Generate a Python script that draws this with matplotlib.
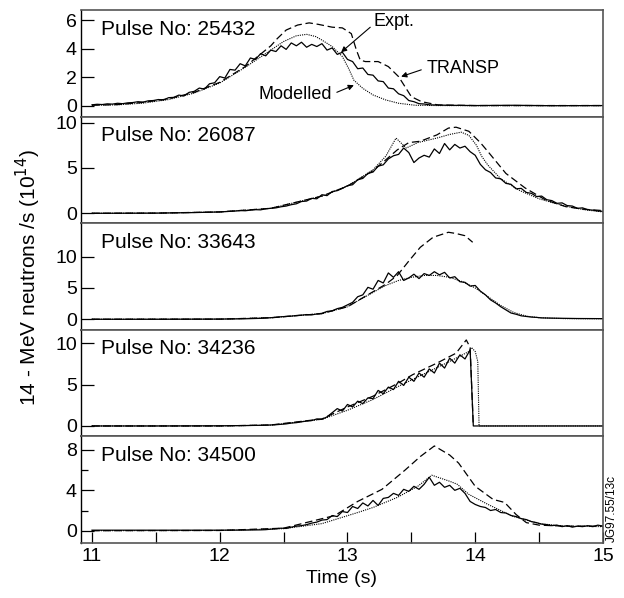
import numpy as np
import matplotlib
matplotlib.use("Agg")
from matplotlib import pyplot as plt

plt.rcParams['font.family'] = ['Liberation Sans', 'DejaVu Sans']

pulses = ['25432', '26087', '33643', '34236', '34500']

# ---- Pulse 25432 ----
exp1 = [0.08, 0.12, 0.10, 0.15, 0.13, 0.19, 0.16, 0.22, 0.24, 0.30,
        0.27, 0.36, 0.38, 0.45, 0.42, 0.58, 0.60, 0.76, 0.70, 0.95,
        1.02, 1.25, 1.18, 1.55, 1.62, 2.05, 1.95, 2.55, 2.50, 2.95,
        2.80, 3.35, 3.25, 3.65, 3.50, 3.90, 3.80, 4.20, 3.95, 4.40,
        4.20, 4.45, 4.10, 4.30, 4.15, 4.35, 3.90, 4.05, 3.60, 3.75,
        3.25, 3.10, 2.60, 2.65, 2.20, 2.15, 1.75, 1.70, 1.25, 1.20,
        0.85, 0.72, 0.38, 0.30, 0.16, 0.14, 0.08]
exp1_tail_t = [13.8, 14.0, 14.3, 14.6, 15.0]
exp1_tail = [0.05, 0.03, 0.05, 0.02, 0.03]
mod1_t = [11.0, 11.2, 11.4, 11.6, 11.8, 12.0, 12.2, 12.4, 12.5, 12.6, 12.68, 12.75,
          12.8, 12.88, 12.96, 13.01, 13.05, 13.12, 13.2, 13.3, 13.4, 13.53, 13.7, 14.0, 15.0]
mod1 = [0.05, 0.08, 0.2, 0.45, 0.9, 1.6, 2.7, 3.9, 4.5, 4.9, 5.0, 4.85,
        4.6, 4.15, 3.45, 2.6, 1.8, 1.23, 0.77, 0.42, 0.19, 0.05, 0.03, 0.02, 0.02]
tr1_t = [11.0, 11.2, 11.4, 11.6, 11.8, 12.0, 12.2, 12.4, 12.45, 12.52, 12.61, 12.7,
         12.77, 12.88, 12.96, 13.03, 13.07, 13.1, 13.14, 13.24, 13.32, 13.4, 13.45,
         13.5, 13.58, 13.71, 14.0, 15.0]
tr1 = [0.05, 0.1, 0.25, 0.5, 0.95, 1.65, 2.75, 4.2, 4.7, 5.3, 5.65, 5.8,
       5.7, 5.5, 5.45, 5.05, 3.9, 3.2, 3.1, 3.1, 2.75, 2.05, 1.35,
       0.65, 0.3, 0.07, 0.03, 0.03]

# ---- Pulse 26087 ----
exp2_head_t = [11.0, 11.5, 11.8, 12.0]
exp2_head = [0.0, 0.02, 0.08, 0.15]
exp2 = [0.25, 0.30, 0.28, 0.35, 0.40, 0.38, 0.50, 0.55, 0.60, 0.72,
        0.80, 0.95, 1.05, 1.30, 1.35, 1.65, 1.60, 2.05, 1.95, 2.40,
        2.50, 2.75, 3.05, 3.15, 3.70, 3.85, 4.40, 4.55, 5.20, 5.35,
        6.00, 6.35, 6.50, 7.20, 6.70, 5.60, 6.10, 6.40, 6.20, 7.10,
        6.60, 7.70, 7.00, 7.60, 7.20, 7.40, 6.80, 6.40, 5.40, 4.80,
        4.50, 3.90, 3.80, 3.30, 3.20, 2.70, 2.75, 2.30, 2.20, 1.85,
        1.90, 1.50, 1.40, 1.10, 1.15, 0.85, 0.80, 0.55, 0.60, 0.40,
        0.35, 0.25, 0.22]
mod2_t = [11.0, 11.5, 12.0, 12.4, 12.8, 13.0, 13.2, 13.3, 13.38, 13.46, 13.55, 13.7,
          13.8, 13.89, 13.95, 14.01, 14.05, 14.1, 14.2, 14.35, 14.5, 14.7, 14.85, 15.0]
mod2 = [0.0, 0.02, 0.15, 0.55, 1.9, 3.0, 4.8, 6.3, 8.3, 7.2, 7.8, 8.3,
        8.7, 8.95, 8.6, 7.5, 6.3, 5.3, 3.8, 2.5, 1.6, 0.8, 0.4, 0.15]
tr2_t = [11.0, 11.5, 12.0, 12.4, 12.8, 13.0, 13.2, 13.3, 13.39, 13.48, 13.57, 13.7,
         13.79, 13.85, 13.95, 14.04, 14.1, 14.24, 14.39, 14.55, 14.71, 14.85, 15.0]
tr2 = [0.0, 0.02, 0.15, 0.55, 1.9, 3.0, 4.7, 5.9, 7.0, 7.8, 7.95, 8.65,
       9.4, 9.5, 9.05, 7.8, 6.8, 4.4, 2.8, 1.47, 0.73, 0.45, 0.3]

# ---- Pulse 33643 ----
exp3_head_t = [11.0, 11.5, 12.0, 12.2]
exp3_head = [0.0, 0.0, 0.03, 0.08]
exp3 = [0.15, 0.20, 0.25, 0.30, 0.40, 0.45, 0.50, 0.60, 0.65, 0.75,
        0.70, 0.85, 0.95, 1.25, 1.35, 1.70, 1.90, 2.30, 2.70, 3.60,
        3.90, 5.10, 4.80, 6.20, 5.80, 7.40, 6.70, 7.60, 6.20, 6.60,
        7.20, 6.50, 7.30, 7.00, 7.60, 7.10, 7.50, 6.60, 6.80, 6.00,
        5.90, 5.30, 5.40, 4.50, 3.90, 3.10, 2.60, 2.00, 1.50, 1.00,
        0.80, 0.55, 0.45, 0.35, 0.30, 0.22, 0.20, 0.18]
exp3_tail_t = [14.8, 15.0]
exp3_tail = [0.12, 0.1]
mod3_t = [11.0, 12.0, 12.4, 12.8, 13.0, 13.2, 13.3, 13.4, 13.5, 13.6, 13.7,
          13.8, 13.9, 14.0, 14.1, 14.2, 14.3, 14.4, 14.5, 14.7, 15.0]
mod3 = [0.0, 0.02, 0.25, 0.9, 2.0, 4.3, 5.4, 6.2, 6.7, 7.0, 7.0,
        6.7, 6.0, 5.0, 3.6, 2.2, 1.1, 0.5, 0.25, 0.1, 0.08]
tr3_t = [11.0, 12.0, 12.4, 12.8, 13.0, 13.2, 13.3, 13.39, 13.48, 13.57, 13.67,
         13.79, 13.85, 13.92, 13.98]
tr3 = [0.0, 0.02, 0.25, 0.9, 2.0, 4.4, 5.6, 7.0, 9.3, 11.5, 13.1,
       13.9, 13.7, 13.35, 12.3]

# ---- Pulse 34236 ----
exp4_head_t = [11.0, 11.5, 12.0, 12.2]
exp4_head = [0.0, 0.0, 0.02, 0.05]
exp4 = [0.08, 0.10, 0.12, 0.15, 0.20, 0.25, 0.35, 0.40, 0.50, 0.60,
        0.65, 0.85, 0.80, 1.10, 1.60, 2.10, 1.80, 2.60, 2.30, 3.00,
        2.70, 3.40, 3.30, 4.30, 3.90, 4.70, 4.40, 5.40, 4.90, 5.90,
        5.40, 6.40, 5.90, 6.90, 6.40, 7.60, 7.00, 8.20, 7.60, 8.60,
        8.10, 9.20]
exp4_tail_t = [13.985, 14.05, 14.5, 15.0]
exp4_tail = [0.0, 0.0, 0.0, 0.0]
mod4_t = [11.0, 12.0, 12.4, 12.8, 13.0, 13.2, 13.4, 13.6, 13.8, 13.95, 13.97,
          14.0, 14.02, 14.03, 14.5, 15.0]
mod4 = [0.0, 0.0, 0.1, 0.8, 1.9, 3.2, 4.8, 6.3, 7.8, 9.0, 9.5,
        9.0, 7.8, 0.0, 0.0, 0.0]
tr4_t = [11.0, 12.0, 12.4, 12.8, 13.0, 13.2, 13.4, 13.51, 13.7, 13.85, 13.93, 13.96, 13.985]
tr4 = [0.0, 0.0, 0.12, 0.85, 2.3, 3.6, 5.2, 6.2, 7.6, 8.8, 10.4, 9.5, 0.0]

# ---- Pulse 34500 ----
exp5_head_t = [11.0, 11.5, 12.0, 12.2]
exp5_head = [0.05, 0.05, 0.05, 0.06]
exp5 = [0.08, 0.10, 0.15, 0.18, 0.25, 0.22, 0.35, 0.45, 0.50, 0.60,
        0.75, 0.85, 1.05, 1.10, 1.50, 1.40, 1.90, 1.80, 2.40, 2.20,
        2.75, 2.45, 3.00, 2.50, 3.20, 3.30, 3.70, 3.50, 4.10, 3.90,
        4.40, 4.10, 4.60, 5.30, 4.50, 4.80, 4.30, 4.50, 4.00, 4.20,
        3.70, 2.90, 2.60, 2.40, 2.30, 2.00, 2.10, 1.80, 1.75, 1.50,
        1.40, 1.20, 1.10, 0.90, 0.80, 0.65, 0.60, 0.50, 0.55, 0.40,
        0.50, 0.35, 0.45, 0.40, 0.50, 0.40, 0.55, 0.45]
mod5_t = [11.0, 12.0, 12.5, 12.8, 13.08, 13.2, 13.39, 13.55, 13.66, 13.8, 13.86,
          13.95, 14.1, 14.3, 14.5, 14.7, 15.0]
mod5 = [0.0, 0.02, 0.2, 0.7, 1.8, 2.3, 3.3, 4.4, 5.5, 4.9, 4.6,
        3.6, 2.6, 1.4, 0.7, 0.45, 0.4]
tr5_t = [11.0, 12.0, 12.5, 12.9, 13.08, 13.27, 13.45, 13.57, 13.68, 13.8, 13.87,
         14.0, 14.14, 14.23, 14.32, 14.4, 14.5, 14.7, 15.0]
tr5 = [0.0, 0.02, 0.25, 1.5, 2.9, 4.1, 6.0, 7.35, 8.4, 7.5, 6.7,
       4.4, 3.1, 2.8, 1.6, 0.8, 0.55, 0.45, 0.45]

expt_t = [
    np.r_[np.linspace(11.0, 13.64, len(exp1)), exp1_tail_t],
    np.r_[exp2_head_t, np.linspace(12.12, 15.0, len(exp2))],
    np.r_[exp3_head_t, np.linspace(12.32, 14.6, len(exp3)), exp3_tail_t],
    np.r_[exp4_head_t, np.linspace(12.32, 13.96, len(exp4)), exp4_tail_t],
    np.r_[exp5_head_t, np.linspace(12.32, 15.0, len(exp5))],
]
expt_v = [
    np.r_[exp1, exp1_tail],
    np.r_[exp2_head, exp2],
    np.r_[exp3_head, exp3, exp3_tail],
    np.r_[exp4_head, exp4, exp4_tail],
    np.r_[exp5_head, exp5],
]
mod_t = [mod1_t, mod2_t, mod3_t, mod4_t, mod5_t]
mod_v = [mod1, mod2, mod3, mod4, mod5]
tr_t = [tr1_t, tr2_t, tr3_t, tr4_t, tr5_t]
tr_v = [tr1, tr2, tr3, tr4, tr5]

ylims = [(-0.74, 6.7), (-1.09, 10.67), (-1.68, 15.35), (-1.26, 11.63), (-1.22, 9.35)]
yticks = [[0, 2, 4, 6], [0, 5, 10], [0, 5, 10], [0, 5, 10], [0, 4, 8]]

fig, axes = plt.subplots(5, 1, figsize=(6.24, 5.98), dpi=100, sharex=True)
fig.subplots_adjust(left=0.1298, right=0.9663, top=0.9833, bottom=0.092, hspace=0)

for i, ax in enumerate(axes):
    ax.plot(expt_t[i], expt_v[i], color='black', lw=0.9)
    ax.plot(mod_t[i], mod_v[i], color='black', lw=0.8, linestyle=(0, (1, 1)))
    ax.plot(tr_t[i], tr_v[i], color='black', lw=0.9, linestyle=(0, (6, 3)))
    ax.set_ylim(*ylims[i])
    ax.set_yticks(yticks[i])
    ax.set_xlim(10.914, 15.0)
    ax.tick_params(axis='y', direction='in', length=9, width=0.9, labelsize=14, pad=3)
    ax.tick_params(axis='x', bottom=False, labelbottom=False)
    for side in ['top', 'bottom', 'right']:
        ax.spines[side].set_color('#555555')
        ax.spines[side].set_linewidth(1.2)
    ax.spines['left'].set_linewidth(1.0)
    ax.text(0.038, 0.82, f'Pulse No: {pulses[i]}', transform=ax.transAxes,
            fontsize=15, va='center', ha='left')

ax5 = axes[-1]
ax5.set_yticks([2, 6], minor=True)
ax5.tick_params(axis='y', which='minor', direction='in', length=5, width=0.9)
ax5.set_xticks([11, 12, 13, 14, 15])
ax5.set_xticks([11.5, 12.5, 13.5, 14.5], minor=True)
ax5.tick_params(axis='x', which='both', bottom=True, labelbottom=True, direction='in',
                length=8, width=0.9, labelsize=14)
ax5.set_xlabel('Time (s)', fontsize=14)

fig.text(0.045, 0.535, r'14 - MeV neutrons /s (10$^{14}$)', rotation=90,
         fontsize=15, va='center', ha='center')
fig.text(0.981, 0.1505, 'JG97.55/13c', rotation=90, fontsize=8.5, va='center', ha='center')

ax1 = axes[0]
ax1.annotate('Expt.', xy=(12.95, 3.75), xytext=(13.2, 5.9), fontsize=13,
             ha='left', va='center',
             arrowprops=dict(arrowstyle='-|>', color='black', lw=0.8, mutation_scale=8,
                             shrinkA=0, shrinkB=0, relpos=(0, 0.3)))
ax1.annotate('TRANSP', xy=(13.42, 2.05), xytext=(13.62, 2.65), fontsize=13,
             ha='left', va='center',
             arrowprops=dict(arrowstyle='-|>', color='black', lw=0.8, mutation_scale=8,
                             shrinkA=2, shrinkB=0, relpos=(0, 0.5)))
ax1.annotate('Modelled', xy=(13.05, 1.45), xytext=(12.875, 0.8), fontsize=13,
             ha='right', va='center',
             arrowprops=dict(arrowstyle='-|>', color='black', lw=0.8, mutation_scale=8,
                             shrinkA=2, shrinkB=0, relpos=(1, 0.5)))

plt.savefig('out.png', dpi=100)
